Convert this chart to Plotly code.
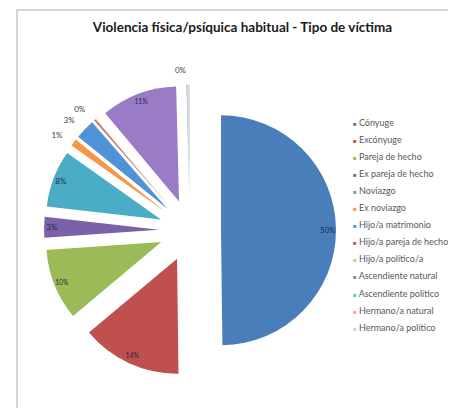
import plotly.graph_objects as go

categories = [
    "Cónyuge", "Excónyuge", "Pareja de hecho", "Ex pareja de hecho", "Noviazgo",
    "Ex noviazgo", "Hijo/a matrimonio", "Hijo/a pareja de hecho", "Hijo/a político/a",
    "Ascendiente natural", "Ascendiente político", "Hermano/a natural", "Hermano/a político",
]
values = [49.8, 14.1, 10.0, 2.9, 8.0, 1.0, 2.8, 0.2, 0.1, 10.7, 0.1, 0.1, 0.2]
colors = [
    "#4A7EBB", "#C0504D", "#9BBB59", "#7B62A8", "#4BACC6", "#F79646", "#4F93D6",
    "#C8505E", "#B5D38A", "#9A7CC6", "#5FC0D0", "#F4A99A", "#C9D3E6",
]
# where Excel drew each data label
label_inside = [True, True, True, True, True, False, False, False, False, True, False, False, False]
label_outside = [False, False, False, False, False, True, True, True, False, False, False, False, True]

W, H = 456, 408
OFF = 8  # page body margin offset


def px_x(x):
    return (x - OFF) / W


def px_y(y):
    return 1 - (y - OFF) / H


# pie geometry (page pixels): centre, radius, explosion distance
CX, CY, R, EXPLODE = 190, 230.5, 115, 31
PULL = EXPLODE / R
half = R * (1 + PULL)
DOMAIN = dict(x=[px_x(CX - half), px_x(CX + half)], y=[px_y(CY + half), px_y(CY - half)])

# outside labels sit a little further out (Excel best-fit)
R_OUT = 125
PULL_OUT = EXPLODE / R_OUT
half_out = R_OUT * (1 + PULL_OUT)
DOMAIN_OUT = dict(x=[px_x(CX - half_out), px_x(CX + half_out)],
                  y=[px_y(CY + half_out), px_y(CY - half_out)])

common = dict(labels=categories, values=values, sort=False, direction="clockwise",
              rotation=0, showlegend=False)
clear = ["rgba(0,0,0,0)"] * len(values)

pie = go.Pie(
    **common,
    pull=PULL,
    marker=dict(colors=colors, line=dict(width=0)),
    textinfo="none",
    hoverinfo="label+percent",
    domain=DOMAIN,
)

inside_labels = go.Pie(
    **common,
    pull=PULL,
    hole=0.86,
    marker=dict(colors=clear, line=dict(width=0)),
    texttemplate="%{percent:.0%}",
    textposition=["inside" if s else "none" for s in label_inside],
    insidetextorientation="horizontal",
    textfont=dict(family="Lato", size=8, color="#1F2A44"),
    hoverinfo="skip",
    domain=DOMAIN,
)

outside_labels = go.Pie(
    **common,
    pull=PULL_OUT,
    marker=dict(colors=clear, line=dict(width=0)),
    texttemplate="%{percent:.0%}",
    textposition=["outside" if s else "none" for s in label_outside],
    outsidetextfont=dict(family="Lato", size=8, color="#404040"),
    hoverinfo="skip",
    domain=DOMAIN_OUT,
)

fig = go.Figure([pie, inside_labels, outside_labels])

# legend drawn as text entries (Excel-style small square keys, tight spacing)
LEG_X, LEG_Y0, LEG_DY = 351, 122, 17.1
annotations = []
for i, (name, col) in enumerate(zip(categories, colors)):
    annotations.append(dict(
        xref="paper", yref="paper",
        x=px_x(LEG_X), y=px_y(LEG_Y0 + i * LEG_DY),
        xanchor="left", yanchor="middle",
        showarrow=False,
        text=f"<span style='color:{col};font-size:6px'>■</span> {name}",
        font=dict(family="Lato", size=9, color="#595959"),
    ))

fig.update_layout(
    width=W, height=H,
    margin=dict(l=0, r=0, t=0, b=0, autoexpand=False),
    paper_bgcolor="white",
    plot_bgcolor="white",
    title=dict(
        text="<b>Violencia física/psíquica habitual - Tipo de víctima</b>",
        x=px_x(242.5), xanchor="center", xref="container",
        y=px_y(27), yanchor="middle", yref="container",
        font=dict(family="Lato", size=13.5, color="#1a1a1a"),
    ),
    annotations=annotations,
    shapes=[dict(
        type="rect", xref="paper", yref="paper",
        x0=px_x(17), x1=1.02, y0=-0.02, y1=px_y(10),
        line=dict(color="#C8C8C8", width=1.5),
        fillcolor="rgba(0,0,0,0)",
    )],
)

fig.write_html("out.html")
